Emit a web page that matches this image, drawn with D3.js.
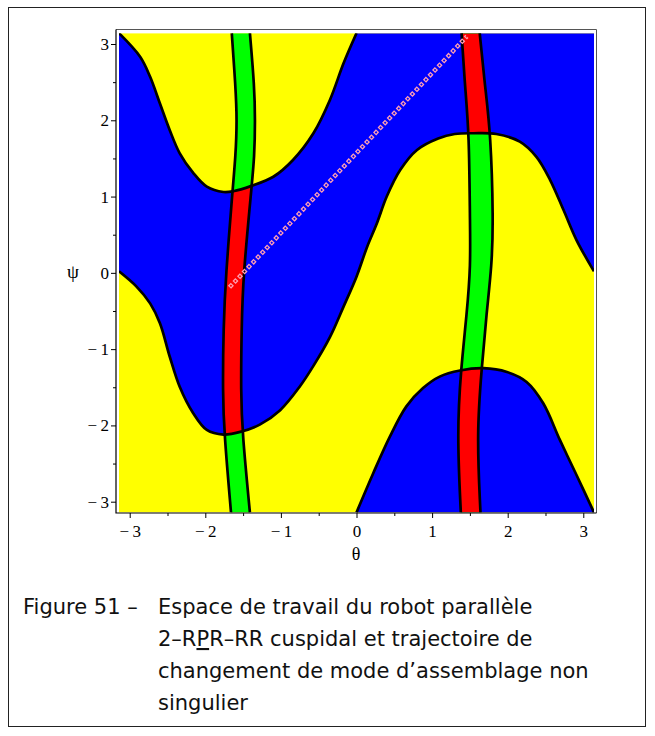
<!DOCTYPE html>
<html><head><meta charset="utf-8">
<script src="https://cdn.jsdelivr.net/npm/d3@7"></script>
<style>body{margin:0;background:#fff}</style>
</head><body>
<svg id="c" width="655" height="736"></svg>
<script>
const PI = Math.PI;
// ---- data ----
const xTicks = [-3, -2, -1, 0, 1, 2, 3];
const yTicks = [-3, -2, -1, 0, 1, 2, 3];
const minorTicks = [-2.5, -1.5, -0.5, 0.5, 1.5, 2.5];
// boundary curve B: [theta, psi]
const curveB = [[-PI,0.02],[-2.91,-0.18],[-2.73,-0.40],[-2.60,-0.66],[-2.47,-1.10],[-2.34,-1.49],[-2.16,-1.84],[-1.98,-2.06],[-1.76,-2.12],[-1.52,-2.08],[-1.28,-1.99],[-1.01,-1.80],[-0.75,-1.49],[-0.57,-1.22],[-0.35,-0.84],[-0.17,-0.44],[0,-0.05],[0.14,0.34],[0.27,0.65],[0.40,1.00],[0.58,1.35],[0.80,1.61],[1.08,1.76],[1.30,1.82],[1.55,1.83],[1.85,1.82],[2.16,1.72],[2.38,1.52],[2.56,1.22],[2.74,0.82],[2.91,0.43],[PI,0.02]];
// boundary curve A (upper part, theta in [-pi,0])
const curveAUpper = [[-PI,PI],[-2.86,2.83],[-2.73,2.57],[-2.60,2.22],[-2.47,1.87],[-2.34,1.57],[-2.16,1.31],[-1.98,1.13],[-1.76,1.06],[-1.63,1.07],[-1.39,1.14],[-1.10,1.26],[-0.84,1.48],[-0.57,1.83],[-0.35,2.27],[-0.17,2.75],[0,PI]];
// boundary curve A (lower part, theta in [0,pi])
const curveALower = [[0,-PI],[0.22,-2.63],[0.44,-2.15],[0.66,-1.75],[0.88,-1.51],[1.10,-1.36],[1.37,-1.28],[1.68,-1.25],[1.99,-1.30],[2.25,-1.43],[2.47,-1.71],[2.69,-2.19],[2.91,-2.65],[PI,-PI]];
// singularity bands: [psi, theta]
const band1Left  = [[PI,-1.65],[2.44,-1.60],[2.0,-1.58],[1.52,-1.60],[1.08,-1.64],[-0.05,-1.73],[-0.71,-1.76],[-1.58,-1.77],[-2.1,-1.75],[-PI,-1.66]];
const band1Right = [[PI,-1.41],[2.44,-1.35],[2.0,-1.34],[1.52,-1.35],[1.1,-1.39],[-0.05,-1.50],[-0.71,-1.52],[-1.58,-1.53],[-2.1,-1.51],[-PI,-1.41]];
const band2Left  = [[PI,1.39],[2.44,1.435],[1.83,1.49],[0.69,1.50],[0.1,1.51],[-0.53,1.46],[-1.27,1.38],[-2.1,1.33],[-PI,1.38]];
const band2Right = [[PI,1.63],[2.44,1.70],[1.83,1.775],[0.69,1.81],[0.1,1.79],[-0.53,1.72],[-1.25,1.656],[-2.1,1.59],[-PI,1.64]];
// non-singular assembly-mode changing trajectory: [theta, psi]
const trajectory = [[-1.68,-0.19],[1.46,3.10]];

// ---- drawing ----
const svg = d3.select('#c');
const x = d3.scaleLinear().domain([-PI, PI]).range([119, 594]);
const y = d3.scaleLinear().domain([-PI, PI]).range([512.5, 33.2]);
const YEL = '#ffff00', BLU = '#0000ff', GRN = '#00ff00', RED = '#ff0000';

svg.append('rect').attr('x', 8.5).attr('y', 7.5).attr('width', 637).attr('height', 719)
  .attr('fill', 'none').attr('stroke', '#222').attr('stroke-width', 1);

const defs = svg.append('defs');
defs.append('clipPath').attr('id', 'plotClip').append('rect')
  .attr('x', x(-PI)).attr('y', y(PI)).attr('width', x(PI) - x(-PI)).attr('height', y(-PI) - y(PI));

const lineTP = d3.line().x(d => x(d[0])).y(d => y(d[1])).curve(d3.curveCatmullRom.alpha(0.5));
const lineBand = d3.line().x(d => x(d[1])).y(d => y(d[0])).curve(d3.curveBasis);

const blue1 = lineTP(curveB) + 'L' + x(PI) + ',' + y(PI) + 'L' + x(0) + ',' + y(PI)
  + lineTP(curveAUpper.slice().reverse()).replace(/^M/, 'L') + 'Z';
const blue2 = lineTP(curveALower) + 'Z';

const blueClip = defs.append('clipPath').attr('id', 'blueClip');
blueClip.append('path').attr('d', blue1);
blueClip.append('path').attr('d', blue2);

const g = svg.append('g').attr('clip-path', 'url(#plotClip)');
g.append('rect').attr('x', x(-PI)).attr('y', y(PI)).attr('width', x(PI) - x(-PI)).attr('height', y(-PI) - y(PI)).attr('fill', YEL);
g.append('path').attr('d', blue1).attr('fill', BLU);
g.append('path').attr('d', blue2).attr('fill', BLU);

const bands = [[band1Left, band1Right], [band2Left, band2Right]];
const bandD = b => lineBand(b[0]) + lineBand(b[1].slice().reverse()).replace(/^M/, 'L') + 'Z';
bands.forEach(b => {
  g.append('path').attr('d', bandD(b)).attr('fill', GRN);
  g.append('path').attr('d', bandD(b)).attr('fill', RED).attr('clip-path', 'url(#blueClip)');
});

// boundary lines
const stroke = (sel) => sel.attr('fill', 'none').attr('stroke', '#000').attr('stroke-width', 2.7).attr('stroke-linejoin', 'round');
[curveB, curveAUpper, curveALower].forEach(c => g.append('path').attr('d', lineTP(c)).call(stroke));
bands.forEach(b => { g.append('path').attr('d', lineBand(b[0])).call(stroke); g.append('path').attr('d', lineBand(b[1])).call(stroke); });

// trajectory markers (hollow squares)
const trajLine = d3.line().x(d => x(d[0])).y(d => y(d[1]));
const mask = defs.append('mask').attr('id', 'hole').attr('maskUnits', 'userSpaceOnUse')
  .attr('x', 0).attr('y', 0).attr('width', 655).attr('height', 736);
mask.append('rect').attr('width', 655).attr('height', 736).attr('fill', '#fff');
mask.append('path').attr('d', trajLine(trajectory)).attr('stroke', '#000').attr('stroke-width', 1.8)
  .attr('stroke-dasharray', '1.8,4.8').attr('stroke-dashoffset', -1.2);
g.append('path').attr('d', trajLine(trajectory)).attr('stroke', '#ff9fb2').attr('stroke-width', 4.4)
  .attr('stroke-dasharray', '4.2,2.4').attr('fill', 'none').attr('mask', 'url(#hole)');

// frame
const L = 116, R = 596.5, T = 29.5, B = 513;
svg.append('path').attr('d', `M${L},${T}H${R}V${B}`).attr('fill', 'none').attr('stroke', '#555').attr('stroke-width', 1);
svg.append('path').attr('d', `M${L},${T}V${B}H${R}`).attr('fill', 'none').attr('stroke', '#000').attr('stroke-width', 1.2);

const fmt = d => d < 0 ? '\u2212\u2009' + (-d) : String(d);
const styleAxis = a => {
  a.attr('font-family', 'Liberation Serif').attr('font-size', 17);
  a.select('.domain').remove();
  a.selectAll('text').style('font-family', '"Liberation Serif", serif').style('font-size', '17px').attr('fill', '#000');
  a.selectAll('line').attr('stroke', '#000');
};
svg.append('g').attr('transform', `translate(${L},0)`).call(d3.axisLeft(y).tickValues(yTicks).tickSize(5).tickPadding(2).tickFormat(fmt)).call(styleAxis);
svg.append('g').attr('transform', `translate(${L},0)`).call(d3.axisLeft(y).tickValues(minorTicks).tickSize(3).tickFormat('')).call(styleAxis);
svg.append('g').attr('transform', `translate(0,${B})`).call(d3.axisBottom(x).tickValues(xTicks).tickSize(5).tickPadding(7).tickFormat(fmt)).call(styleAxis);
svg.append('g').attr('transform', `translate(0,${B})`).call(d3.axisBottom(x).tickValues(minorTicks).tickSize(3).tickFormat('')).call(styleAxis);

svg.append('text').attr('x', 73).attr('y', 278).attr('text-anchor', 'middle')
  .style('font-family', '"Liberation Serif", serif').attr('font-size', 19).text('ψ');
svg.append('text').attr('x', 356).attr('y', 560).attr('text-anchor', 'middle')
  .style('font-family', '"Liberation Serif", serif').attr('font-size', 18).text('θ');

// caption
const cap = svg.append('g').attr('font-family', 'DejaVu Sans, sans-serif').attr('font-size', 21).attr('fill', '#111');
cap.append('text').attr('x', 23).attr('y', 614).text('Figure 51 \u2013');
cap.append('text').attr('x', 158).attr('y', 614).text('Espace de travail du robot parallèle');
const l2 = cap.append('text').attr('x', 158).attr('y', 646);
l2.append('tspan').text('2\u2013R');
l2.append('tspan').attr('text-decoration', 'underline').text('P');
l2.append('tspan').text('R\u2013RR cuspidal et trajectoire de');
cap.append('text').attr('x', 158).attr('y', 678).text('changement de mode d\u2019assemblage non');
cap.append('text').attr('x', 158).attr('y', 710).text('singulier');
</script>
</body></html>
